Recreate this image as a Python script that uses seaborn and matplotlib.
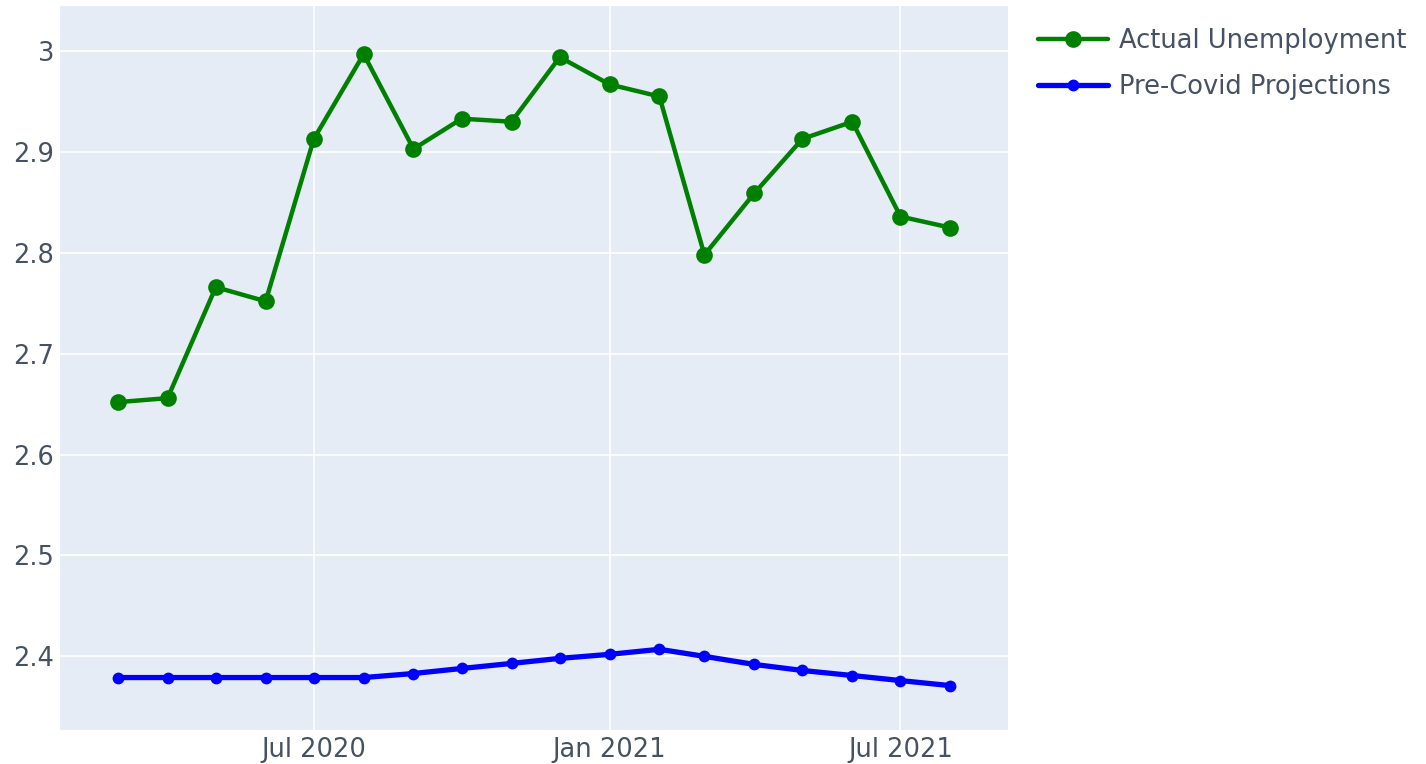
import matplotlib
matplotlib.use("Agg")
import matplotlib.pyplot as plt
import matplotlib.dates as mdates
from matplotlib.ticker import FuncFormatter
import pandas as pd
import seaborn as sns

# monthly data, Mar 2020 - Aug 2021
months = pd.date_range("2020-03-01", "2021-08-01", freq="MS")
actual_unemployment = [2.652, 2.656, 2.766, 2.752, 2.913, 2.997, 2.903, 2.933, 2.930,
                       2.994, 2.967, 2.955, 2.798, 2.859, 2.913, 2.930, 2.836, 2.825]
precovid_projection = [2.379, 2.379, 2.379, 2.379, 2.379, 2.379, 2.383, 2.388, 2.393,
                       2.398, 2.402, 2.407, 2.400, 2.392, 2.386, 2.381, 2.376, 2.371]
x_ticks = ["2020-07-01", "2021-01-01", "2021-07-01"]
y_ticks = [2.4, 2.5, 2.6, 2.7, 2.8, 2.9, 3.0]

df_actual = pd.DataFrame({"date": months, "value": actual_unemployment})
df_proj = pd.DataFrame({"date": months, "value": precovid_projection})

sns.set_theme(style="darkgrid", rc={
    "axes.facecolor": "#E5ECF6",
    "grid.color": "white",
    "grid.linewidth": 1.2,
})
plt.rcParams["font.family"] = ["DejaVu Sans"]

fig = plt.figure(figsize=(14.26, 7.64), dpi=100)
ax = fig.add_axes([0.042, 0.0445, 0.665, 0.9475])

sns.lineplot(data=df_actual, x="date", y="value", ax=ax, color="green",
             marker="o", markersize=12, linewidth=3.2, markeredgewidth=0,
             label="Actual Unemployment")
sns.lineplot(data=df_proj, x="date", y="value", ax=ax, color="blue",
             marker="o", markersize=8.5, linewidth=3.8, markeredgewidth=0,
             label="Pre-Covid Projections")

ax.set_xlim(pd.Timestamp("2020-01-25"), pd.Timestamp("2021-09-06"))
ax.set_ylim(2.327, 3.0446)
ax.set_xticks(pd.to_datetime(x_ticks))
ax.xaxis.set_major_formatter(mdates.DateFormatter("%b %Y"))
ax.set_yticks(y_ticks)
ax.yaxis.set_major_formatter(FuncFormatter(lambda v, p: f"{v:g}"))
ax.set_xlabel("")
ax.set_ylabel("")
ax.tick_params(axis="both", length=0, labelsize=18.5, labelcolor="#465263")
ax.tick_params(axis="y", pad=4)
ax.tick_params(axis="x", pad=5)
for s in ax.spines.values():
    s.set_visible(False)

handles, labels = ax.get_legend_handles_labels()
ax.legend_.remove()
fig.legend(handles, labels, loc="upper left", bbox_to_anchor=(0.712, 0.993),
           frameon=False, fontsize=18.5, labelcolor="#465263",
           handlelength=2.7, handletextpad=0.45, labelspacing=0.75)

fig.savefig("out.png", dpi=100)
